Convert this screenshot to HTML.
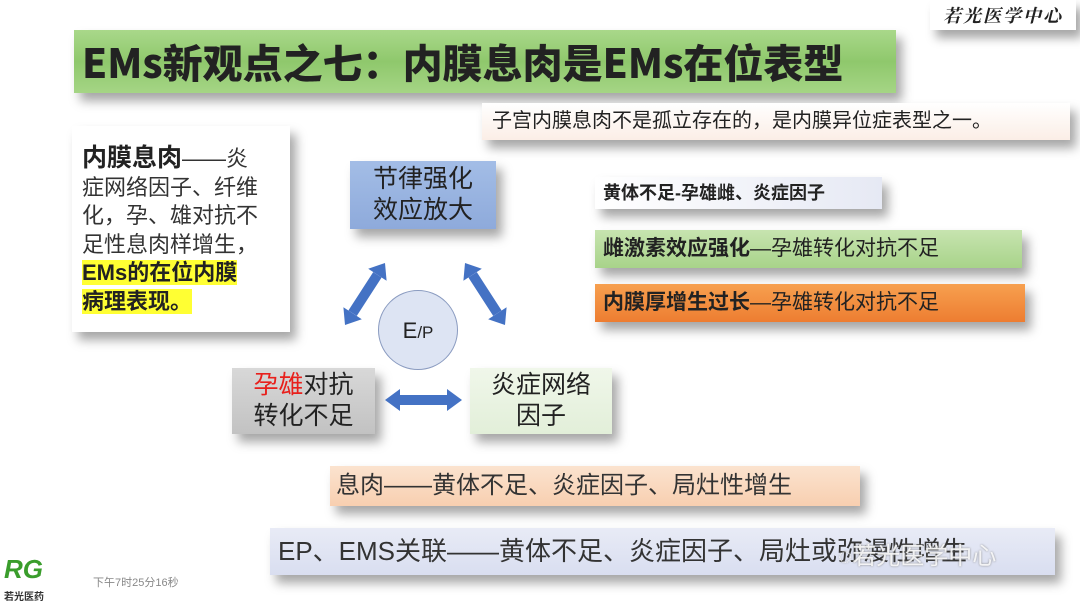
<!DOCTYPE html>
<html><head><meta charset="utf-8"><style>
html,body{margin:0;padding:0;}
body{width:1080px;height:608px;background:#fff;position:relative;overflow:hidden;font-family:"Liberation Sans","Noto Sans CJK SC",sans-serif;color:#222;}
.a{position:absolute;box-sizing:border-box;}
.sh{box-shadow:6px 8px 10px rgba(0,0,0,0.35);}
.t{white-space:nowrap;}
</style></head><body>

<div class="a sh t" style="left:930px;top:0;width:146px;height:30px;background:#fff;font-family:'Noto Serif CJK SC',serif;font-weight:bold;font-size:18px;line-height:30px;text-align:center;font-style:italic;letter-spacing:2px;">若光医学中心</div>

<div class="a sh t" style="left:74px;top:30px;width:822px;height:63px;background:linear-gradient(#a9d88a,#8fc86c 50%,#a5d585);font-family:'Noto Sans CJK SC',sans-serif;font-weight:900;font-size:40px;line-height:63px;padding-left:8px;color:#222;">EMs新观点之七：内膜息肉是EMs在位表型</div>

<div class="a sh t" style="left:482px;top:103px;width:588px;height:37px;background:linear-gradient(#fff,#fbeee6);font-size:20px;line-height:37px;padding-left:10px;">子宫内膜息肉不是孤立存在的，是内膜异位症表型之一。</div>

<div class="a sh" style="left:72px;top:126px;width:218px;height:206px;background:#fff;padding:18px 0 0 10px;font-size:22px;line-height:28.5px;color:#333;">
<span style="font-weight:bold;font-size:25px;color:#222;">内膜息肉</span>——炎<br>症网络因子、纤维<br>化，孕、雄对抗不<br>足性息肉样增生，<br><span style="background:#ffff33;font-weight:bold;color:#222;">EMs的在位内膜</span><br><span style="background:#ffff33;font-weight:bold;color:#222;">病理表现。</span></div>

<div class="a sh" style="left:350px;top:161px;width:146px;height:68px;background:linear-gradient(#a3bde6,#8eaadb);font-size:25px;line-height:31px;text-align:center;padding-top:3px;">节律强化<br>效应放大</div>

<div class="a" style="left:378px;top:290px;width:80px;height:80px;border-radius:50%;background:#dde4f3;border:1.5px solid #8a9bc0;font-size:22px;line-height:80px;text-align:center;">E<span style="font-size:17px">/P</span></div>

<div class="a sh" style="left:232px;top:368px;width:143px;height:66px;background:linear-gradient(#d8d8d8,#c2c2c2);font-size:25px;line-height:31px;text-align:center;padding-top:2px;"><span style="color:#e8201c">孕雄</span>对抗<br>转化不足</div>

<div class="a sh" style="left:470px;top:368px;width:142px;height:66px;background:linear-gradient(#f0f7ea,#e2efd9);font-size:25px;line-height:31px;text-align:center;padding-top:2px;">炎症网络<br>因子</div>

<svg class="a" style="left:0;top:0" width="1080" height="608">
<g fill="#4472c4" stroke="#4472c4">
<line x1="352.6" y1="313.2" x2="377.4" y2="274.8" stroke-width="10"/>
<polygon stroke="none" points="385,263 386.6,280.8 368.2,268.8"/>
<polygon stroke="none" points="345,325 361.8,319.2 343.4,307.2"/>
<line x1="472.6" y1="274.8" x2="497.4" y2="313.2" stroke-width="10"/>
<polygon stroke="none" points="465,263 481.8,268.8 463.4,280.8"/>
<polygon stroke="none" points="505,325 506.6,307.2 488.2,319.2"/>
<line x1="399" y1="400" x2="448" y2="400" stroke-width="10"/>
<polygon stroke="none" points="385,400 400,389 400,411"/>
<polygon stroke="none" points="462,400 447,389 447,411"/>
</g></svg>

<div class="a sh t" style="left:595px;top:177px;width:287px;height:32px;background:linear-gradient(90deg,#fff,#e6e9f4);font-size:18px;font-weight:bold;line-height:32px;padding-left:8px;">黄体不足-孕雄雌、炎症因子</div>
<div class="a sh t" style="left:595px;top:230px;width:427px;height:38px;background:linear-gradient(#c7e4b0,#a8d38a);font-size:21px;line-height:38px;padding-left:8px;"><b>雌激素效应强化</b>—孕雄转化对抗不足</div>
<div class="a sh t" style="left:595px;top:284px;width:430px;height:38px;background:linear-gradient(#f7a04f,#ed7d31);font-size:21px;line-height:38px;padding-left:8px;"><b>内膜厚增生过长</b>—孕雄转化对抗不足</div>

<div class="a sh t" style="left:330px;top:466px;width:530px;height:40px;background:linear-gradient(#fbe3cf,#f8cfb0);font-size:24px;line-height:40px;padding-left:6px;color:#333;">息肉——黄体不足、炎症因子、局灶性增生</div>

<div class="a sh t" style="left:270px;top:528px;width:785px;height:47px;background:linear-gradient(#e8ebf6,#d9def0);font-size:26px;line-height:47px;padding-left:8px;color:#333;">EP、EMS关联——黄体不足、炎症因子、局灶或弥漫性增生</div>
<div class="a t" style="left:838px;top:536px;font-size:24px;color:rgba(255,255,255,0.85);text-shadow:0 0 2px #888;">◌若光医学中心</div>

<div class="a" style="left:0;top:552px;width:48px;height:56px;background:#fff;">
<div class="a t" style="left:4px;top:2px;font-size:26px;font-weight:900;font-style:italic;color:#3a9d2c;">RG</div>
<div class="a t" style="left:4px;top:36px;font-size:10px;font-weight:bold;color:#333;">若光医药</div>
</div>
<div class="a t" style="left:93px;top:574px;font-size:11px;color:#888;">下午7时25分16秒</div>

</body></html>
